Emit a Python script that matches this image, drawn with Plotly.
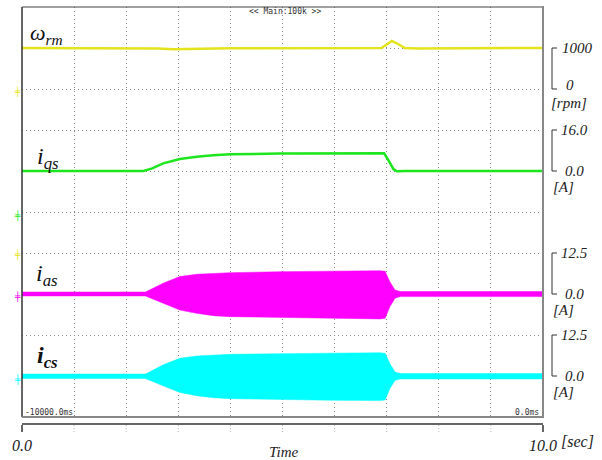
import plotly.graph_objects as go

# ---------------- data ----------------
t_w = [0, 2.4, 2.6, 2.9, 3.2, 3.6, 4.0, 6.9, 7.0, 7.1, 7.2, 7.35, 7.6, 10]
w_rpm = [1000, 1000, 985, 970, 975, 990, 995, 1000, 1080, 1170, 1110, 1000, 990, 1000]

t_qs = [0, 2.33, 2.5, 2.71, 3.03, 3.35, 3.67, 3.99, 4.95, 5.91, 6.87, 6.95, 7.03, 7.13, 7.2, 7.35, 10]
i_qs = [0, 0, 1.0, 3.0, 4.7, 5.6, 6.1, 6.5, 6.8, 6.9, 7.1, 6.9, 4.3, 0.7, -0.1, 0, 0]

t_env = [0, 2.37, 2.71, 3.03, 3.35, 3.67, 3.99, 4.95, 5.91, 6.87, 6.97, 7.06, 7.16, 7.26, 10]
ias_hi = [0.6, 0.6, 3.3, 5.3, 6.0, 6.3, 6.5, 6.8, 7.0, 7.1, 6.9, 3.75, 1.2, 0.75, 0.75]
ias_lo = [-0.6, -0.6, -2.8, -4.9, -5.9, -6.6, -6.9, -7.2, -7.4, -7.6, -7.4, -3.9, -1.3, -0.8, -0.8]
ics_hi = [0.6, 0.6, 3.4, 5.4, 6.1, 6.4, 6.6, 6.8, 7.0, 7.1, 6.9, 3.8, 1.2, 0.75, 0.75]
ics_lo = [-0.8, -0.8, -3.0, -5.0, -6.0, -6.6, -6.9, -7.2, -7.4, -7.5, -7.3, -3.9, -1.3, -0.9, -0.9]

time_ticks = [0, 10]
time_ticktext = ["0.0", "10.0"]
minor_time = [1, 2, 3, 4, 5, 6, 7, 8, 9]

# ---------------- layout helpers ----------------
W, H = 602, 460
def px(x):
    return x / W
def py(y):
    return 1 - y / H

X0, X1, Y0, Y1 = 22, 543, 7, 417
xdom = [px(X0), px(X1)]
ydom = [py(Y1), py(Y0)]

YELLOW = "#e3e31e"
GREEN = "#1ee61e"
MAGENTA = "#ff00ff"
CYAN = "#00ffff"
GRID = "#8a8a8a"
SERIF = "Liberation Serif"

fig = go.Figure()

fig.add_trace(go.Scatter(x=t_w, y=w_rpm, mode="lines", line=dict(color=YELLOW, width=2.5),
                         yaxis="y", hoverinfo="skip"))
fig.add_trace(go.Scatter(x=t_qs, y=i_qs, mode="lines", line=dict(color=GREEN, width=2.5),
                         yaxis="y2", hoverinfo="skip"))
fig.add_trace(go.Scatter(x=t_env, y=ias_lo, mode="lines", line=dict(color=MAGENTA, width=0.5),
                         yaxis="y3", hoverinfo="skip"))
fig.add_trace(go.Scatter(x=t_env, y=ias_hi, mode="lines", line=dict(color=MAGENTA, width=0.5),
                         fill="tonexty", fillcolor=MAGENTA, yaxis="y3", hoverinfo="skip"))
fig.add_trace(go.Scatter(x=t_env, y=ics_lo, mode="lines", line=dict(color=CYAN, width=0.5),
                         yaxis="y4", hoverinfo="skip"))
fig.add_trace(go.Scatter(x=t_env, y=ics_hi, mode="lines", line=dict(color=CYAN, width=0.5),
                         fill="tonexty", fillcolor=CYAN, yaxis="y4", hoverinfo="skip"))
# dummy trace so the time axis is drawn
fig.add_trace(go.Scatter(x=[0, 10], y=[None, None], mode="lines", xaxis="x2", yaxis="y",
                         hoverinfo="skip"))

common_y = dict(domain=ydom, showticklabels=False, zeroline=False, showline=False, ticks="",
                fixedrange=True, automargin=False)

fig.update_layout(
    width=W, height=H, margin=dict(l=0, r=0, t=0, b=0, autoexpand=False),
    paper_bgcolor="white", plot_bgcolor="white", showlegend=False,
    xaxis=dict(domain=xdom, range=[0, 10], dtick=1, tick0=0, showgrid=True, gridcolor=GRID,
               griddash="1px,3px", gridwidth=1, showticklabels=False, zeroline=False,
               showline=False, ticks="", automargin=False),
    xaxis2=dict(domain=xdom, range=[0, 10], overlaying="x", anchor="free", position=py(424),
                side="bottom", showline=True, linecolor="#666", linewidth=2, ticks="outside",
                ticklen=7, tickwidth=2, tickcolor="#666", tickvals=time_ticks,
                ticktext=["<i>%s</i>" % s for s in time_ticktext],
                tickfont=dict(family=SERIF, size=16, color="#222"), showgrid=False,
                zeroline=False, automargin=False),
    yaxis=dict(range=[-8000, 2000], dtick=1000, tick0=0, showgrid=True, gridcolor=GRID,
               griddash="1px,3px", gridwidth=1, **common_y),
    yaxis2=dict(range=[-96, 64], overlaying="y", visible=False, **common_y),
    yaxis3=dict(range=[-37.5, 87.5], overlaying="y", visible=False, **common_y),
    yaxis4=dict(range=[-12.5, 112.5], overlaying="y", visible=False, **common_y),
)

shapes = []
# plot frame
shapes.append(dict(type="line", xref="paper", yref="paper", x0=px(X0), x1=px(X1), y0=py(Y0), y1=py(Y0),
                   line=dict(color="#444", width=1)))
shapes.append(dict(type="line", xref="paper", yref="paper", x0=px(X0), x1=px(X0), y0=py(Y0), y1=py(Y1),
                   line=dict(color="#333", width=1.5)))
shapes.append(dict(type="line", xref="paper", yref="paper", x0=px(X1), x1=px(X1), y0=py(Y0 - 1), y1=py(Y1 + 1),
                   line=dict(color="#888", width=2)))
shapes.append(dict(type="line", xref="paper", yref="paper", x0=px(X0), x1=px(X1), y0=py(Y1), y1=py(Y1),
                   line=dict(color="#888", width=2)))
# faint dotted ticks on the time axis
for tv in minor_time:
    shapes.append(dict(type="line", xref="x", yref="paper", x0=tv, x1=tv, y0=py(425), y1=py(432),
                       line=dict(color="#bbb", width=1, dash="1px,2px")))

# scale brackets on the right
brackets = [("y", 1000, 0), ("y2", 16.0, 0), ("y3", 12.5, 0), ("y4", 12.5, 0)]
for yr, top, bot in brackets:
    shapes.append(dict(type="path", xref="paper", yref=yr,
                       path="M %f,%f L %f,%f L %f,%f L %f,%f" % (px(557), top, px(552), top, px(552), bot, px(557), bot),
                       line=dict(color="#333", width=1)))
fig.update_layout(shapes=shapes)

ann = []
def label(text, x, y, yref="paper", size=15, xanchor="center", family=SERIF, color="#222", yshift=0):
    ann.append(dict(text=text, x=x, y=y, xref="paper", yref=yref, showarrow=False,
                    xanchor=xanchor, yanchor="middle", font=dict(family=family, size=size, color=color),
                    yshift=yshift))

# right scale labels
label("<i>1000</i>", px(577), 1000, "y")
label("<i>0</i>", px(570), 0, "y", yshift=4)
label("<i>[rpm]</i>", px(549), -330, "y", xanchor="left")
label("<i>16.0</i>", px(574), 16.0, "y2")
label("<i>0.0</i>", px(574), 0, "y2")
label("<i>[A]</i>", px(551), -6.4, "y2", xanchor="left")
label("<i>12.5</i>", px(574), 12.5, "y3")
label("<i>0.0</i>", px(574), 0, "y3")
label("<i>[A]</i>", px(551), -4.8, "y3", xanchor="left")
label("<i>12.5</i>", px(574), 12.5, "y4")
label("<i>0.0</i>", px(574), 0, "y4")
label("<i>[A]</i>", px(551), -4.8, "y4", xanchor="left")

# signal names
label("<i>ω</i><sub><i>rm</i></sub>", px(28), py(34), size=22, xanchor="left", color="#111")
label("<i>i</i><sub><i>qs</i></sub>", px(35), py(158), size=24, xanchor="left", color="#111")
label("<i>i</i><sub><i>as</i></sub>", px(34), py(275), size=24, xanchor="left", color="#111")
label("<b><i>i</i><sub><i>cs</i></sub></b>", px(35), py(357), size=24, xanchor="left", color="#111")

# header / footer texts
label("&lt;&lt; Main:100k &gt;&gt;", px(285), py(12), size=8, family="DejaVu Sans Mono", color="#333")
label("-10000.0ms", px(23), py(412), size=8, xanchor="left", family="DejaVu Sans Mono", color="#333")
label("0.0ms", px(541), py(412), size=8, xanchor="right", family="DejaVu Sans Mono", color="#333")
label("<i>[sec]</i>", px(559), py(441), size=16, xanchor="left")
label("<i>Time</i>", px(284), py(452), size=15)

# channel markers on the left edge
for yy, col in [(92, YELLOW), (216, GREEN), (255, YELLOW), (297, MAGENTA), (380, CYAN)]:
    label("╪", px(17), py(yy), size=9, family="DejaVu Sans Mono", color=col)

fig.update_layout(annotations=ann)
fig.write_html("out.html")
